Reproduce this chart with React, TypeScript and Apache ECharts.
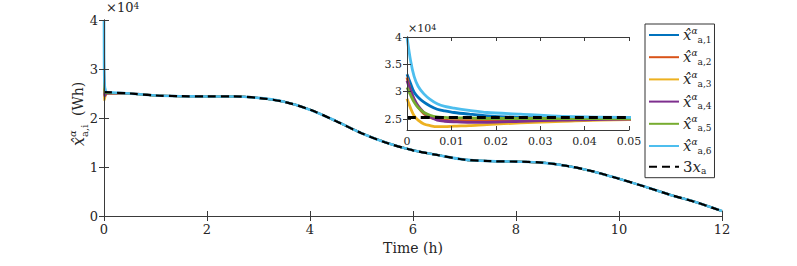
import React, { useEffect, useRef } from "react";
import * as echarts from "echarts";

// ---- data (Wh) ----
const mainTime = [0, 0.5, 1, 1.5, 2, 2.5, 3, 3.5, 4, 4.5, 5, 5.5, 6, 6.5, 7, 7.5, 8, 8.5, 9, 9.5, 10, 10.5, 11, 11.5, 12];
const refValues = [25300, 25000, 24600, 24450, 24400, 24400, 24100, 23300, 21700, 19400, 16900, 14900, 13400, 12400, 11500, 11200, 11100, 10900, 10200, 9100, 7600, 6000, 4300, 2800, 1000];

const insetTime = [0, 0.0008, 0.0016, 0.0025, 0.0038, 0.0052, 0.0068, 0.0085, 0.0106, 0.014, 0.018, 0.0256, 0.035, 0.05];
const est1 = [33200, 31500, 29900, 29000, 28100, 27400, 26800, 26500, 26200, 25900, 25600, 25300, 25200, 25100];
const est2 = [32600, 30200, 28500, 27200, 26000, 25300, 25000, 24800, 24700, 24700, 24800, 24900, 25000, 25100];
const est3 = [28700, 27000, 25600, 24800, 24100, 23800, 23600, 23600, 23700, 23800, 24000, 24300, 24600, 24900];
const est4 = [32000, 30200, 28700, 27400, 26200, 25400, 24800, 24600, 24500, 24400, 24400, 24600, 24800, 25000];
const est5 = [30800, 29400, 28100, 27100, 26200, 25700, 25400, 25300, 25200, 25200, 25100, 25100, 25100, 25100];
const est6 = [40000, 35700, 32800, 31000, 29600, 28600, 27800, 27300, 27000, 26600, 26200, 25900, 25500, 25300];

const xTicksMain = { min: 0, max: 12, interval: 2 };
const yTicksMain = { min: 0, max: 40000, interval: 10000 };
const xTicksInset = { min: 0, max: 0.05, interval: 0.01 };
const yInsetRange = { min: 23000, max: 40000 };
const yInsetTicks = [25000, 30000, 35000, 40000];

const estNames = ["x1", "x2", "x3", "x4", "x5", "x6"];
const estData = [est1, est2, est3, est4, est5, est6];
const colors = ["#0072BD", "#D95319", "#EDB120", "#7E2F8E", "#77AC30", "#4DBEEE"];

const FONT = "DejaVu Serif";
const AX = "#3a3a3a";
const TXT = "#262626";

function buildEst(vals: number[]): number[][] {
  const pts: number[][] = insetTime.map((t, i) => [t, vals[i]]);
  for (let i = 1; i < mainTime.length; i++) pts.push([mainTime[i], refValues[i]]);
  return pts;
}
const refPts = mainTime.map((t, i) => [t, refValues[i]]);

export default function App() {
  const ref = useRef<HTMLDivElement>(null);
  useEffect(() => {
    if (!ref.current) return;
    const chart = echarts.init(ref.current, undefined, { renderer: "svg" });

    const lbl = (size: number, extra: any = {}) => ({ color: TXT, fontFamily: FONT, fontSize: size, ...extra });

    const axisCommon = (extra: any) => ({
      type: "value",
      axisLine: { show: true, lineStyle: { color: AX, width: 1 } },
      axisTick: { show: true, inside: true, length: 5, lineStyle: { color: AX } },
      splitLine: { show: false },
      axisLabel: lbl(13),
      ...extra,
    });

    const xAxis: any[] = [
      axisCommon({
        gridIndex: 0, position: "bottom", ...xTicksMain, z: 3,
        axisLabel: lbl(13, { margin: 7 }),
        name: "Time (h)", nameLocation: "middle", nameGap: 25,
        nameTextStyle: lbl(14),
      }),
      axisCommon({ gridIndex: 0, position: "top", ...xTicksMain, axisLabel: { show: false }, z: 3 }),
      axisCommon({
        gridIndex: 1, position: "bottom", ...xTicksInset, z: 7,
        axisLabel: lbl(11, { margin: 6, formatter: (v: number) => (v === 0 ? "0" : v.toFixed(2)) }),
        axisTick: { show: true, inside: true, length: 4, lineStyle: { color: AX } },
      }),
      axisCommon({
        gridIndex: 1, position: "top", ...xTicksInset, axisLabel: { show: false }, z: 7,
        axisTick: { show: true, inside: true, length: 4, lineStyle: { color: AX } },
      }),
    ];
    const yAxis: any[] = [
      axisCommon({
        gridIndex: 0, position: "left", ...yTicksMain, z: 3,
        axisLabel: lbl(13, { margin: 6, formatter: (v: number) => String(v / 10000) }),
      }),
      axisCommon({ gridIndex: 0, position: "right", ...yTicksMain, axisLabel: { show: false }, z: 3 }),
      axisCommon({
        gridIndex: 1, position: "left", ...yInsetRange, z: 7,
        axisLabel: lbl(11, { margin: 5, customValues: yInsetTicks, formatter: (v: number) => String(v / 10000) }),
        axisTick: { show: true, inside: true, length: 4, customValues: yInsetTicks, lineStyle: { color: AX } },
      }),
      axisCommon({
        gridIndex: 1, position: "right", ...yInsetRange, z: 7,
        axisLabel: { show: false },
        axisTick: { show: true, inside: true, length: 4, customValues: yInsetTicks, lineStyle: { color: AX } },
      }),
    ];

    const series: any[] = [];
    estNames.forEach((n, i) => {
      series.push({
        name: n, type: "line", xAxisIndex: 0, yAxisIndex: 0, data: buildEst(estData[i]),
        symbol: "none", smooth: 0.3, z: 2, clip: true,
        lineStyle: { color: colors[i], width: i === 5 ? 2.6 : 2 }, itemStyle: { color: colors[i] },
      });
    });
    series.push({
      name: "ref", type: "line", xAxisIndex: 0, yAxisIndex: 0, data: refPts,
      symbol: "none", smooth: 0.3, z: 2, clip: true,
      lineStyle: { color: "#000", width: 2.2, type: [8, 5] }, itemStyle: { color: "#000" },
    });
    estNames.forEach((n, i) => {
      series.push({
        name: n, type: "line", xAxisIndex: 2, yAxisIndex: 2, data: buildEst(estData[i]),
        symbol: "none", smooth: 0.3, z: 6, clip: true,
        lineStyle: { color: colors[i], width: 2.8 }, itemStyle: { color: colors[i] },
      });
    });
    series.push({
      name: "ref", type: "line", xAxisIndex: 2, yAxisIndex: 2, data: refPts,
      symbol: "none", smooth: 0.3, z: 6, clip: true,
      lineStyle: { color: "#000", width: 3, type: [9, 5] }, itemStyle: { color: "#000" },
    });

    const legendLabel: Record<string, string> = {
      x1: "{x|x̂}{sup|α}{sub|a,1}",
      x2: "{x|x̂}{sup|α}{sub|a,2}",
      x3: "{x|x̂}{sup|α}{sub|a,3}",
      x4: "{x|x̂}{sup|α}{sub|a,4}",
      x5: "{x|x̂}{sup|α}{sub|a,5}",
      x6: "{x|x̂}{sup|α}{sub|a,6}",
      ref: "{n|3}{x|x}{sub|a}",
    };

    chart.setOption({
      animation: false,
      backgroundColor: "#fff",
      textStyle: { fontFamily: FONT },
      grid: [
        { left: 104, right: 75, top: 20, bottom: 50, containLabel: false },
        { left: 407, right: 168, top: 37, bottom: 136, show: true, backgroundColor: "#fff", borderWidth: 0, z: 5 },
      ],
      xAxis,
      yAxis,
      series,
      legend: {
        orient: "vertical", left: 645, top: 24, z: 8,
        data: [...estNames, "ref"],
        itemWidth: 30, itemHeight: 12, itemGap: 4.2,
        padding: [2, 3, 2, 3],
        backgroundColor: "#fff", borderColor: "#333", borderWidth: 1, borderRadius: 0,
        selectedMode: false,
        itemStyle: { opacity: 0 },
        formatter: (name: string) => legendLabel[name],
        textStyle: {
          fontFamily: FONT, color: TXT, padding: [0, 0, 0, -1],
          rich: {
            x: { fontFamily: FONT, fontStyle: "italic", fontSize: 15, lineHeight: 18, color: TXT, verticalAlign: "middle" },
            n: { fontFamily: FONT, fontSize: 15, lineHeight: 18, color: TXT, verticalAlign: "middle" },
            sup: { fontFamily: FONT, fontStyle: "italic", fontSize: 9, color: TXT, verticalAlign: "top" },
            sub: { fontFamily: FONT, fontSize: 9, color: TXT, verticalAlign: "bottom", padding: [4, 0, 0, 0] },
          },
        },
      },
      graphic: [
        {
          type: "text", x: 106, y: 1, z: 9,
          style: {
            text: "{t|×10}{s|4}",
            rich: {
              t: { fontFamily: FONT, fontSize: 13, fill: TXT, verticalAlign: "bottom" },
              s: { fontFamily: FONT, fontSize: 9, fill: TXT, verticalAlign: "top" },
            },
          },
        },
        {
          type: "text", x: 408, y: 23, z: 9,
          style: {
            text: "{t|×10}{s|4}",
            rich: {
              t: { fontFamily: FONT, fontSize: 11, fill: TXT, verticalAlign: "bottom" },
              s: { fontFamily: FONT, fontSize: 8, fill: TXT, verticalAlign: "top" },
            },
          },
        },
        {
          type: "group", x: 83, y: 146, rotation: Math.PI / 2, z: 9,
          children: [
            { type: "text", x: 0, y: -5, style: { text: "x̂", font: "italic 16px DejaVu Serif", fill: TXT, verticalAlign: "middle", align: "left" } },
            { type: "text", x: 9, y: -11, style: { text: "α", font: "italic 10px DejaVu Serif", fill: TXT, verticalAlign: "middle", align: "left" } },
            { type: "text", x: 9, y: 1, style: { text: "a,i", font: "10px DejaVu Serif", fill: TXT, verticalAlign: "middle", align: "left" } },
            { type: "text", x: 30, y: -5, style: { text: "(Wh)", font: "14px DejaVu Serif", fill: TXT, verticalAlign: "middle", align: "left" } },
          ],
        },
      ],
    });
    return () => chart.dispose();
  }, []);
  return <div ref={ref} style={{ position: "fixed", left: 0, top: 0, width: 797, height: 266 }} />;
}
